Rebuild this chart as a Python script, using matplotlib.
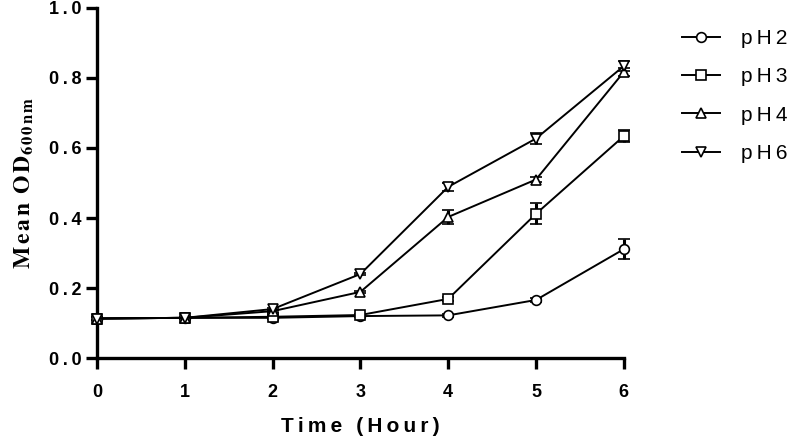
import matplotlib
matplotlib.use("Agg")
import matplotlib.pyplot as plt

hours = [0, 1, 2, 3, 4, 5, 6]

ph2 = [0.113, 0.115, 0.115, 0.120, 0.122, 0.166, 0.311]
ph3 = [0.113, 0.115, 0.118, 0.123, 0.169, 0.412, 0.634]
ph4 = [0.113, 0.115, 0.134, 0.189, 0.403, 0.510, 0.817]
ph6 = [0.113, 0.115, 0.140, 0.240, 0.489, 0.627, 0.834]

ph2_err = [0.004, 0.003, 0.004, 0.003, 0.004, 0.006, 0.028]
ph3_err = [0.004, 0.003, 0.004, 0.003, 0.006, 0.030, 0.018]
ph4_err = [0.004, 0.003, 0.004, 0.004, 0.020, 0.008, 0.012]
ph6_err = [0.004, 0.003, 0.004, 0.004, 0.012, 0.016, 0.014]

labels = ["pH2", "pH3", "pH4", "pH6"]
markers = ["o", "s", "^", "v"]
yticks = [0.0, 0.2, 0.4, 0.6, 0.8, 1.0]

TS = "\u2009"  # thin space, used for the wide letter spacing


def spaced(s, sep=TS):
    return sep.join(s)


plt.rcParams["font.family"] = ["Liberation Sans", "DejaVu Sans"]
plt.rcParams["mathtext.fontset"] = "stix"

fig = plt.figure(figsize=(7.91, 4.41), dpi=100)
ax = fig.add_axes([0.1226, 0.188, 0.666, 0.794])

for y, e, m, lab in zip([ph2, ph3, ph4, ph6], [ph2_err, ph3_err, ph4_err, ph6_err],
                        markers, labels):
    ax.errorbar(hours, y, yerr=e, color="black", lw=1.4, marker=m,
                markersize=7, markerfacecolor="white", markeredgecolor="black",
                markeredgewidth=1.2, ecolor="black", elinewidth=2.2,
                capsize=4, capthick=2.2, label=spaced(lab),
                clip_on=False, zorder=3)

ax.set_xlim(0, 6)
ax.set_ylim(0, 1.0)
ax.set_xticks(hours)
ax.set_xticklabels([str(h) for h in hours])
ax.set_yticks(yticks)
ax.set_yticklabels([spaced(f"{v:.1f}") for v in yticks])

for s in ["top", "right"]:
    ax.spines[s].set_visible(False)
for s in ["left", "bottom"]:
    ax.spines[s].set_linewidth(2.4)
ax.tick_params(width=2.4, length=8, labelsize=13)
ax.tick_params(axis="x", pad=11)
ax.tick_params(axis="y", pad=3)
for t in ax.get_xticklabels() + ax.get_yticklabels():
    t.set_fontweight("bold")

ax.set_xlabel(spaced("Time (Hour)"), fontsize=15, fontweight="bold", labelpad=11)
ax.set_ylabel(r"$\mathbf{M\,e\,a\,n\;\;O\,D}_{\mathbf{6\,0\,0\,n\,m}}$",
              fontsize=17)
ax.yaxis.set_label_coords(-0.116, 0.5)

handles, labs = ax.get_legend_handles_labels()
handles = [h[0] for h in handles]
ax.legend(handles, labs, loc="upper left", bbox_to_anchor=(1.11, 0.94),
          borderaxespad=0, borderpad=0, frameon=False, fontsize=15,
          handlelength=1.85, handletextpad=1.0, labelspacing=0.93)

fig.savefig("out.png", dpi=100)
